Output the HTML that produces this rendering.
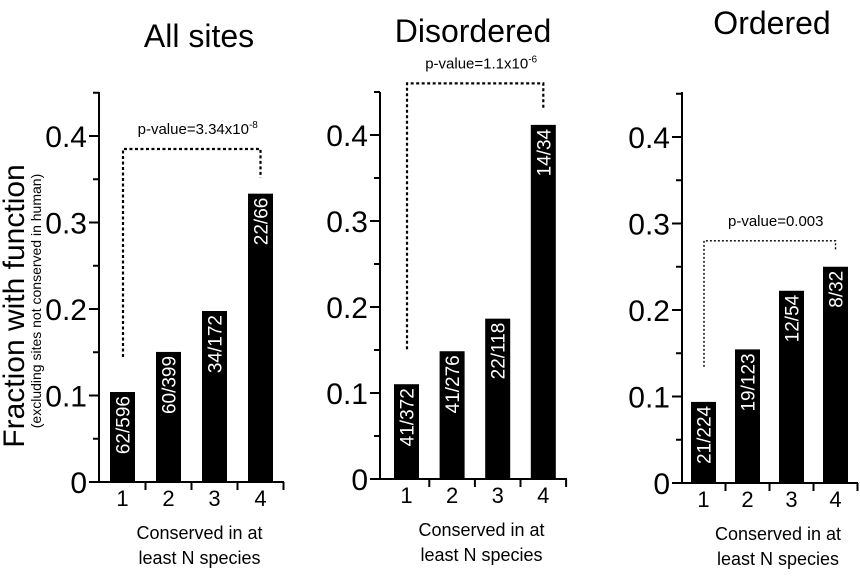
<!DOCTYPE html>
<html><head><meta charset="utf-8"><style>
body{margin:0;background:#fff;}
svg{display:block;font-family:"Liberation Sans",Arial,sans-serif;}
</style></head><body>
<svg id="c" width="860" height="576"></svg>
<script>
const categories = ["1","2","3","4"];
const panelTitles = ["All sites","Disordered","Ordered"];
const numerators = [[62,60,34,22],[41,41,22,14],[21,19,12,8]];
const denominators = [[596,399,172,66],[372,276,118,34],[224,123,54,32]];
const yTicks = [0,0.1,0.2,0.3,0.4];
const yTickLabels = ["0","0.1","0.2","0.3","0.4"];
const pValues = ["3.34x10","1.1x10","0.003"];
const pExps = ["-8","-6",""];
const bracketLevels = [0.385,0.46,0.28];

const NS="http://www.w3.org/2000/svg";
const svg=document.getElementById('c');
function mk(t,a,p){const e=document.createElementNS(NS,t);for(const k in a)e.setAttribute(k,a[k]);(p||svg).appendChild(e);return e;}

const layouts=[
 {ax:99,y0:482,y4:136,top:92,x0:110,step:46,bw:25,xend:284,titleY:47,titleX:199,lw:2.2},
 {ax:380,y0:479,y4:135,top:92,x0:394,step:45.6,bw:25,xend:567,titleY:42,titleX:473,lw:2.2},
 {ax:682,y0:483,y4:137,top:92,x0:691,step:44,bw:25,xend:858,titleY:34,titleX:772,lw:1.4}
];

layouts.forEach((L,p)=>{
  const g=mk('g',{});
  
  
  const y=v=>L.y0-(L.y0-L.y4)*v/0.4;
  const t=mk('text',{x:L.titleX,y:L.titleY,'font-size':32,'text-anchor':'middle'},g);
  t.textContent=panelTitles[p];
  
  
  mk('line',{x1:L.ax,y1:L.top,x2:L.ax,y2:L.y0+1,stroke:'#000','stroke-width':2},g);
  for(let v=0.05;v<0.45;v+=0.1){mk('line',{x1:L.ax-6,y1:y(v),x2:L.ax,y2:y(v),stroke:'#000','stroke-width':2},g);}
  yTicks.forEach((v,i)=>{
    mk('line',{x1:L.ax-10,y1:y(v),x2:L.ax,y2:y(v),stroke:'#000','stroke-width':2},g);
    const tl=mk('text',{x:L.ax-12,y:y(v)+11,'font-size':30,'text-anchor':'end'},g);
    tl.textContent=yTickLabels[i];
    
    
  });
  mk('line',{x1:L.ax-1,y1:L.y0,x2:L.xend,y2:L.y0,stroke:'#000','stroke-width':2},g);
  categories.forEach((c,i)=>{
    const bx=L.x0+i*L.step, cx=bx+L.bw/2;
    const tx=bx+L.bw+(L.step-L.bw)/2;
    mk('line',{x1:tx,y1:L.y0,x2:tx,y2:L.y0+8,stroke:'#000','stroke-width':2},g);
    const val=numerators[p][i]/denominators[p][i];
    const r=mk('rect',{x:bx,y:y(val),width:L.bw,height:L.y0-y(val),fill:'#000'},g);
    
    
    const bl=mk('text',{x:0,y:0,'font-size':19,fill:'#fff','text-anchor':'end',transform:`translate(${cx+7},${y(val)+4}) rotate(-90)`},g);
    bl.textContent=numerators[p][i]+'/'+denominators[p][i];
    
    
    const cl=mk('text',{x:cx,y:L.y0+24,'font-size':22,'text-anchor':'middle'},g);
    cl.textContent=c;
    
    
  });
  const mid=(L.ax+L.xend)/2+8;
  const xl1=mk('text',{x:mid,y:L.y0+57,'font-size':18,'text-anchor':'middle'},g);
  xl1.textContent='Conserved in at';
  
  
  const xl2=mk('text',{x:mid,y:L.y0+82,'font-size':18,'text-anchor':'middle'},g);
  xl2.textContent='least N species';
  
  
  const v1=numerators[p][0]/denominators[p][0], v4=numerators[p][3]/denominators[p][3];
  const bxl=L.x0+L.bw/2+0.5, bxr=L.x0+3*L.step+L.bw/2;
  const by=y(bracketLevels[p]);
  const dash=p==2?'2,2':'3,2.5';
  const br=mk('path',{d:`M${bxl},${y(v1)-35} V${by} H${bxr} V${y(v4)-16}`,fill:'none',stroke:'#000','stroke-width':L.lw,'stroke-dasharray':dash},g);
  
  
  const pt=mk('text',{x:(bxl+bxr)/2+6,y:by-15,'font-size':15,'text-anchor':'middle'},g);
  
  
  pt.appendChild(document.createTextNode('p-value='+pValues[p]));
  if(pExps[p]){const s=mk('tspan',{'font-size':10,dy:-6},pt);s.textContent=pExps[p];}
});
const yt=mk('text',{x:0,y:0,'font-size':30,'text-anchor':'middle',transform:'translate(24,306) rotate(-90)'});
yt.textContent='Fraction with function';


const ys=mk('text',{x:0,y:0,'font-size':14,'text-anchor':'middle',transform:'translate(41,301) rotate(-90)'});
ys.textContent='(excluding sites not conserved in human)';


</script>
</body></html>
